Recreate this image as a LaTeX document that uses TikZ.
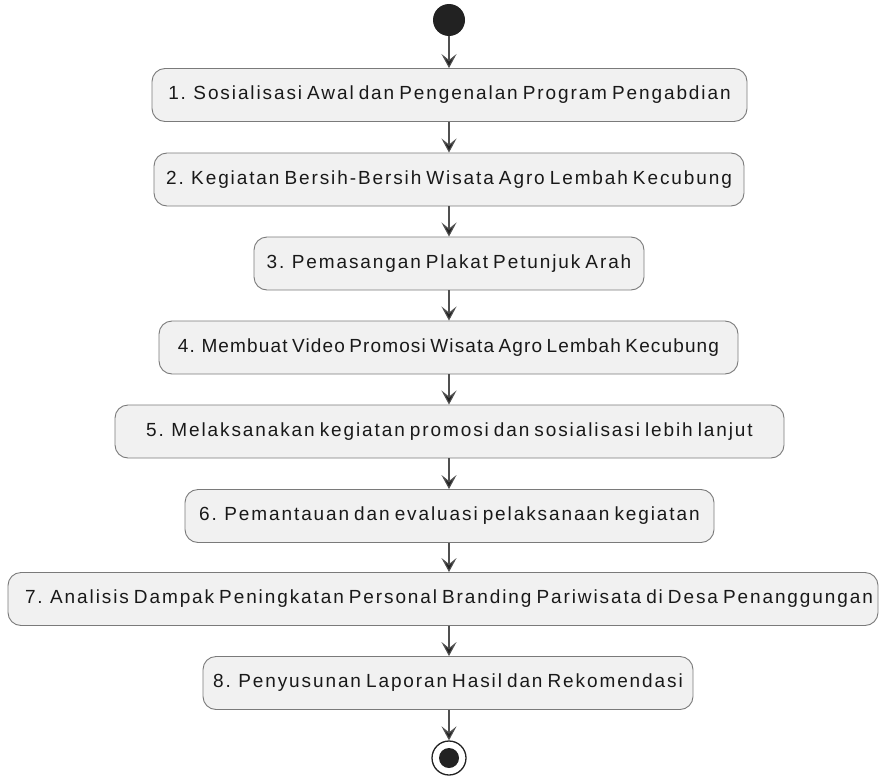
\documentclass[tikz,border=0pt]{standalone}
\usepackage{fontspec}
\setmainfont{Liberation Sans}[LetterSpace=10,WordSpace=0.7]
\usetikzlibrary{arrows.meta}

\definecolor{boxfill}{HTML}{F1F1F1}
\definecolor{boxline}{HTML}{7A7A7A}
\definecolor{flowline}{HTML}{505050}
\definecolor{dotfill}{HTML}{222222}

\tikzset{
  stepbox/.style={draw=boxline, fill=boxfill, line width=0.9pt, rounded corners=13pt,
    minimum height=53pt, inner xsep=0pt, font=\fontsize{19}{21}\selectfont, text=black!90},
  flow/.style={draw=flowline, line width=1.1pt,
    -{Stealth[length=14pt,width=15pt,inset=6pt,fill=dotfill]}},
}

\begin{document}
\begin{tikzpicture}[x=1pt,y=-1pt]
  \useasboundingbox (0,0) rectangle (880,776);
  % start and end
  \node[circle, fill=dotfill, minimum size=32pt, inner sep=0pt] (start) at (449,20) {};
  \node[circle, draw=dotfill, fill=white, line width=1.3pt, minimum size=34pt, inner sep=0pt] (stop) at (449,758) {};
  \fill[dotfill] (stop.center) circle [radius=10];
  % steps
  \node[stepbox, minimum width=595pt] (s1) at (449.5,95) {1. Sosialisasi Awal dan Pengenalan Program Pengabdian};
  \node[stepbox, minimum width=590pt] (s2) at (449,179.5) {2. Kegiatan Bersih-Bersih Wisata Agro Lembah Kecubung};
  \node[stepbox, minimum width=390pt] (s3) at (449,263.5) {3. Pemasangan Plakat Petunjuk Arah};
  \node[stepbox, minimum width=579pt] (s4) at (448.5,347.5) {\addfontfeature{LetterSpace=6}4. Membuat Video Promosi Wisata Agro Lembah Kecubung};
  \node[stepbox, minimum width=669pt] (s5) at (449.5,431.5) {5. Melaksanakan kegiatan promosi dan sosialisasi lebih lanjut};
  \node[stepbox, minimum width=529pt] (s6) at (449.5,516) {6. Pemantauan dan evaluasi pelaksanaan kegiatan};
  \node[stepbox, minimum width=870pt] (s7) at (443,599) {\hspace*{12pt}7. Analisis Dampak Peningkatan Personal Branding Pariwisata di Desa Penanggungan};
  \node[stepbox, minimum width=490pt] (s8) at (448,683) {8. Penyusunan Laporan Hasil dan Rekomendasi};
  % connectors
  \draw[flow] (start.south) -- (start.south |- s1.north);
  \foreach \a/\b in {s1/s2, s2/s3, s3/s4, s4/s5, s5/s6, s6/s7, s7/s8} {
    \draw[flow] (\a.south -| start) -- (start |- \b.north);
  }
  \draw[flow] (s8.south -| start) -- (stop.north);
\end{tikzpicture}
\end{document}
